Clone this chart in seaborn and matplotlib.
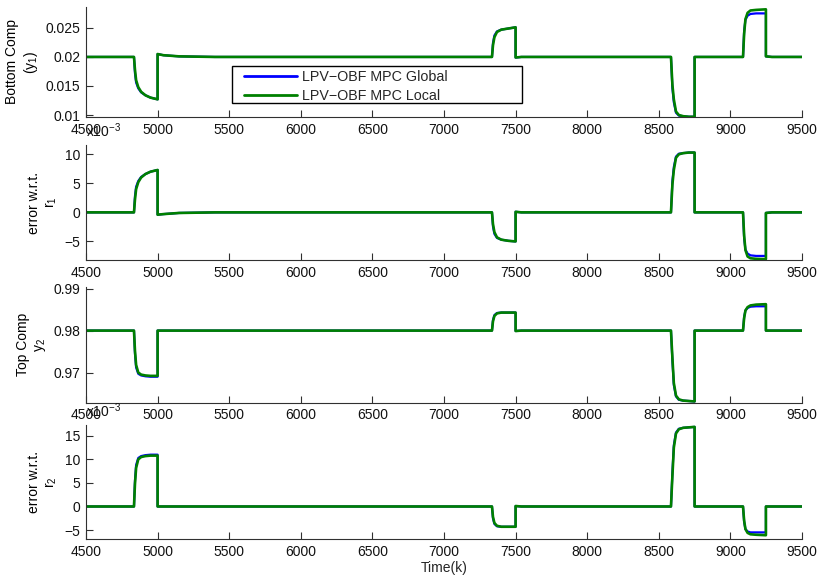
import numpy as np
import pandas as pd
import matplotlib
matplotlib.use("Agg")
import matplotlib.pyplot as plt
from matplotlib.patches import Rectangle
import seaborn as sns

# ---------------- data ----------------
T = [4500, 4835, 4842, 4850, 4865, 4885, 4915, 4950, 5000, 5000, 5040, 5150, 5400,
     7335, 7342, 7352, 7370, 7400, 7450, 7500, 7500, 7540, 7650,
     8585, 8595, 8605, 8620, 8640, 8670, 8710, 8750, 8750, 8790,
     9088, 9096, 9105, 9120, 9140, 9180, 9248, 9248, 9290, 9500]

# Bottom composition y1
y1_local = [0.0200, 0.0200, 0.0178, 0.0160, 0.0148, 0.0140, 0.0134, 0.0130, 0.0127, 0.0205, 0.0203, 0.0201, 0.0200,
            0.0200, 0.0220, 0.0234, 0.0243, 0.0247, 0.0249, 0.0251, 0.0199, 0.0200, 0.0200,
            0.0200, 0.0152, 0.0127, 0.0106, 0.0100, 0.0098, 0.0097, 0.0097, 0.0200, 0.0200,
            0.0200, 0.0240, 0.0265, 0.0276, 0.0280, 0.0281, 0.0282, 0.0201, 0.0200, 0.0200]
y1_global = [0.0200, 0.0200, 0.0172, 0.0156, 0.0146, 0.0139, 0.0134, 0.0130, 0.0127, 0.0205, 0.0203, 0.0201, 0.0200,
             0.0200, 0.0224, 0.0237, 0.0244, 0.0247, 0.0249, 0.0251, 0.0199, 0.0200, 0.0200,
             0.0200, 0.0146, 0.0122, 0.0104, 0.0099, 0.0098, 0.0097, 0.0097, 0.0200, 0.0200,
             0.0200, 0.0245, 0.0264, 0.0271, 0.0274, 0.0275, 0.0275, 0.0201, 0.0200, 0.0200]

# error w.r.t. r1 (x 1e-3)
e1_local = [0, 0, 2.2, 4.0, 5.2, 6.0, 6.6, 7.0, 7.3, -0.4, -0.3, -0.1, 0,
            0, -2.0, -3.4, -4.3, -4.7, -4.9, -5.0, 0.1, 0, 0,
            0, 4.8, 7.3, 9.4, 10.0, 10.2, 10.3, 10.3, 0, 0,
            0, -4.0, -6.5, -7.6, -7.9, -8.0, -8.05, -0.1, 0, 0]
e1_global = [0, 0, 2.8, 4.4, 5.4, 6.1, 6.6, 7.0, 7.3, -0.4, -0.3, -0.1, 0,
             0, -2.4, -3.7, -4.4, -4.7, -4.9, -5.0, 0.1, 0, 0,
             0, 5.4, 7.8, 9.6, 10.1, 10.2, 10.3, 10.3, 0, 0,
             0, -4.5, -6.4, -7.1, -7.4, -7.5, -7.5, -0.1, 0, 0]

# Top composition y2
y2_local = [0.9800, 0.9800, 0.9752, 0.9718, 0.9700, 0.9695, 0.9693, 0.9692, 0.9692, 0.9800, 0.9800, 0.9800, 0.9800,
            0.9800, 0.9822, 0.9835, 0.9841, 0.9843, 0.9843, 0.9843, 0.9799, 0.9800, 0.9800,
            0.9800, 0.9735, 0.9675, 0.9645, 0.9636, 0.9633, 0.9632, 0.9631, 0.9800, 0.9800,
            0.9800, 0.9830, 0.9848, 0.9856, 0.9860, 0.9862, 0.9863, 0.9800, 0.9800, 0.9800]
y2_global = [0.9800, 0.9800, 0.9745, 0.9712, 0.9697, 0.9693, 0.9691, 0.9690, 0.9690, 0.9800, 0.9800, 0.9800, 0.9800,
             0.9800, 0.9825, 0.9837, 0.9842, 0.9843, 0.9843, 0.9843, 0.9799, 0.9800, 0.9800,
             0.9800, 0.9728, 0.9670, 0.9643, 0.9635, 0.9633, 0.9632, 0.9631, 0.9800, 0.9800,
             0.9800, 0.9833, 0.9848, 0.9854, 0.9857, 0.9858, 0.9858, 0.9800, 0.9800, 0.9800]

# error w.r.t. r2 (x 1e-3)
e2_local = [0, 0, 4.8, 8.2, 10.0, 10.5, 10.7, 10.8, 10.8, 0, 0, 0, 0,
            0, -2.2, -3.5, -4.1, -4.3, -4.3, -4.3, 0.1, 0, 0,
            0, 6.5, 12.5, 15.5, 16.4, 16.7, 16.8, 16.9, 0, 0,
            0, -3.0, -4.8, -5.6, -5.9, -6.0, -6.1, 0, 0, 0]
e2_global = [0, 0, 5.5, 8.8, 10.3, 10.7, 10.9, 11.0, 11.0, 0, 0, 0, 0,
             0, -2.5, -3.7, -4.2, -4.3, -4.3, -4.3, 0.1, 0, 0,
             0, 7.2, 13.0, 15.7, 16.5, 16.7, 16.8, 16.9, 0, 0,
             0, -3.3, -4.8, -5.3, -5.5, -5.5, -5.5, 0, 0, 0]

series_names = ["LPV\u2212OBF MPC Global", "LPV\u2212OBF MPC Local"]
x_ticks = [4500, 5000, 5500, 6000, 6500, 7000, 7500, 8000, 8500, 9000, 9500]
y1_ticks = [0.01, 0.015, 0.02, 0.025]
y1_tick_labels = ["0.01", "0.015", "0.02", "0.025"]
e1_ticks = [-5, 0, 5, 10]
e1_tick_labels = ["\u22125", "0", "5", "10"]
y2_ticks = [0.97, 0.98, 0.99]
y2_tick_labels = ["0.97", "0.98", "0.99"]
e2_ticks = [-5, 0, 5, 10, 15]
e2_tick_labels = ["\u22125", "0", "5", "10", "15"]
ylabels = ["Bottom Comp\n(y$_1$)", "error w.r.t.\nr$_1$", "Top Comp\ny$_2$", "error w.r.t.\nr$_2$"]

# ---------------- style ----------------
sns.set_style("ticks", {"xtick.direction": "in", "ytick.direction": "in"})
plt.rcParams["font.family"] = ["Liberation Sans", "DejaVu Sans"]
plt.rcParams["mathtext.default"] = "regular"
plt.rcParams["font.size"] = 10

BLUE = (0.0, 0.0, 1.0)
GREEN = (0.0, 0.5, 0.0)
SPINE = "#303030"

fig = plt.figure(figsize=(8.18, 5.8), dpi=100)
W, H = 818.0, 580.0
left_px, right_px = 86, 802
boxes = [(7, 117), (145, 260), (287, 402.7), (425, 539)]
axes = []
for top, bot in boxes:
    ax = fig.add_axes([left_px / W, 1 - bot / H, (right_px - left_px) / W, (bot - top) / H])
    axes.append(ax)

panels = [
    (y1_global, y1_local, y1_ticks, y1_tick_labels, (0.00966, 0.0286)),
    (e1_global, e1_local, e1_ticks, e1_tick_labels, (-8.2, 11.6)),
    (y2_global, y2_local, y2_ticks, y2_tick_labels, (0.9628, 0.9904)),
    (e2_global, e2_local, e2_ticks, e2_tick_labels, (-6.9, 17.3)),
]

for i, (ax, (g, l, yt, ytl, yl)) in enumerate(zip(axes, panels)):
    dfg = pd.DataFrame({"t": T, "v": g})
    dfl = pd.DataFrame({"t": T, "v": l})
    sns.lineplot(data=dfg, x="t", y="v", ax=ax, color=BLUE, linewidth=1.6,
                 estimator=None, sort=False, label=series_names[0] if i == 0 else None,
                 legend=(i == 0))
    sns.lineplot(data=dfl, x="t", y="v", ax=ax, color=GREEN, linewidth=1.9,
                 estimator=None, sort=False, label=series_names[1] if i == 0 else None,
                 legend=(i == 0))
    ax.set_xlim(4500, 9500)
    ax.set_ylim(*yl)
    ax.set_xticks(x_ticks)
    ax.set_xticklabels([str(v) for v in x_ticks])
    ax.set_yticks(yt)
    ax.set_yticklabels(ytl)
    ax.set_ylabel(ylabels[i], fontsize=10, color="black")
    ax.set_xlabel("")
    for s in ("top", "right"):
        ax.spines[s].set_visible(False)
    for s in ("left", "bottom"):
        ax.spines[s].set_color(SPINE)
        ax.spines[s].set_linewidth(0.8)
    ax.tick_params(axis="both", direction="in", length=5, width=0.8, color=SPINE,
                   labelsize=10, labelcolor="#111111", pad=4)
    ax.set_facecolor("white")

axes[3].set_xlabel("Time(k)", fontsize=10, labelpad=2)

for ax in (axes[1], axes[3]):
    ax.text(0.0, 1.045, "x10$^{\u22123}$", transform=ax.transAxes, ha="left", va="bottom",
            fontsize=10, color="#111111")

# legend frame (MATLAB-like wide box) drawn as a patch, legend entries inside it
frame = Rectangle((232 / W, 1 - 103 / H), 290 / W, 37 / H, transform=fig.transFigure,
                  facecolor="white", edgecolor="black", linewidth=1.0, zorder=4, clip_on=False)
axes[0].add_patch(frame)
leg = axes[0].legend(loc="upper left", bbox_to_anchor=(244 / W, 1 - 70 / H),
                     bbox_transform=fig.transFigure, borderaxespad=0, frameon=False,
                     handlelength=3.7, handletextpad=0.36, labelspacing=0.33,
                     borderpad=0.0, fontsize=10.3)
leg.set_zorder(5)
for h in leg.get_lines():
    h.set_linewidth(2.0)

fig.savefig("out.png", dpi=100, facecolor="white")
